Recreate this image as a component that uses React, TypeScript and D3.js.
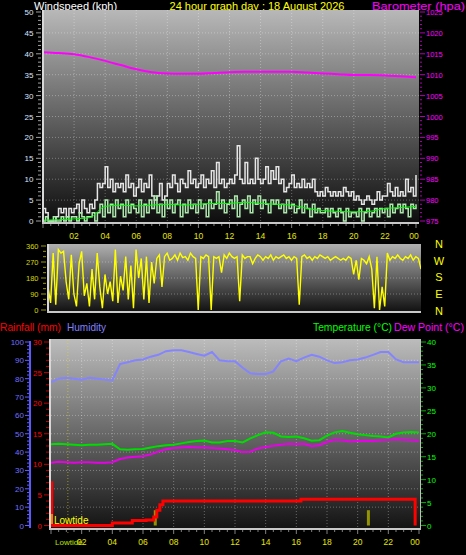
import React from "react";
import * as d3 from "d3";

// ---------- DATA ----------
const hourLabels = ["02", "04", "06", "08", "10", "12", "14", "16", "18", "20", "22", "00"];
const hourValues = [2, 4, 6, 8, 10, 12, 14, 16, 18, 20, 22, 24];

// 10-minute samples 00:00 -> 24:00 (kph)
const windGust = [
  3, 2, 0, 0, 0, 1,
  3, 2, 3, 1, 3, 2,
  3, 4, 2, 5, 3, 2,
  4, 3, 5, 9, 8, 9,
  13, 8, 10, 7, 9, 8,
  9, 7, 11, 8, 9, 6,
  8, 10, 7, 9, 8, 11,
  6, 5, 6, 9, 5, 6,
  9, 8, 11, 9, 7, 10,
  9, 8, 12, 9, 10, 8,
  9, 11, 8, 10, 9, 12,
  8, 14, 9, 10, 8, 9,
  10, 9, 11, 18, 10, 9,
  14, 9, 10, 9, 15, 10,
  9, 10, 13, 9, 12, 10,
  13, 9, 10, 7, 8, 9,
  11, 8, 9, 8, 10, 8,
  9, 8, 10, 7, 6, 7,
  6, 8, 7, 6, 7, 6,
  7, 6, 8, 7, 6, 7,
  5, 6, 5, 4, 5, 6,
  5, 4, 5, 7, 5, 6,
  6, 9, 7, 6, 8, 6,
  7, 6, 10, 7, 8, 6,
  11,
];
const windSpeed = [
  0, 1, 0, 0, 1, 0,
  0, 1, 0, 1, 0, 1,
  1, 0, 2, 1, 0, 1,
  1, 2, 0, 2, 4, 1,
  5, 2, 4, 1, 5, 3,
  4, 1, 5, 2, 4, 3,
  2, 5, 1, 4, 2, 5,
  3, 6, 2, 4, 1, 5,
  3, 5, 2, 4, 5, 1,
  4, 2, 5, 3, 4, 2,
  5, 3, 4, 1, 5, 3,
  4, 7, 3, 5, 2, 4,
  5, 3, 6, 1, 4, 5,
  3, 6, 2, 5, 4, 6,
  3, 5, 4, 2, 5, 4,
  5, 3, 4, 2, 5, 3,
  4, 2, 3, 5, 2, 4,
  3, 1, 4, 2, 3, 2,
  2, 3, 1, 3, 2, 1,
  3, 2, 0, 3, 1, 2,
  2, 1, 3, 0, 2, 3,
  1, 2, 3, 1, 3, 2,
  3, 1, 4, 2, 3, 4,
  2, 4, 3, 1, 4, 3,
  4,
];
// hourly average speed
const avgSpeed = [0.2, 0.3, 0.5, 0.8, 3.5, 3.8, 3.6, 3.8, 4.0, 3.8, 4.0, 4.2, 4.2, 4.5, 4.2, 4.0, 3.8, 3.0, 2.5, 2.3, 2.2, 2.3, 3.0, 3.2, 3.5];
// hourly barometer (hPa)
const pressure = [1015.4, 1015.2, 1014.9, 1014.2, 1013.3, 1012.3, 1011.3, 1010.6, 1010.3, 1010.2, 1010.2, 1010.4, 1010.6, 1010.7, 1010.7, 1010.7, 1010.7, 1010.5, 1010.3, 1010.1, 1009.9, 1009.9, 1009.8, 1009.6, 1009.4];

// 10-minute wind direction (degrees)
const windDir = [
  130, 40, 320, 30, 340, 320,
  330, 160, 60, 310, 90, 20,
  260, 330, 80, 150, 20, 230,
  60, 320, 130, 10, 200, 90,
  160, 50, 340, 40, 190, 110,
  300, 60, 250, 10, 340, 180,
  290, 60, 300, 40, 270, 150,
  290, 310, 130, 300, 320, 280,
  290, 310, 280, 320, 295, 300,
  280, 320, 300, 290, 0, 300,
  290, 310, 300, 0, 300, 290,
  300, 210, 310, 290, 320, 300,
  290, 300, 50, 310, 290, 300,
  300, 260, 290, 310, 300, 280,
  300, 290, 310, 280, 300, 290,
  300, 310, 290, 300, 280, 300,
  290, 30, 300, 310, 290, 300,
  280, 300, 290, 310, 300, 290,
  300, 280, 290, 300, 290, 280,
  290, 280, 300, 290, 200, 280,
  170, 290, 280, 260, 300, 230,
  10, 300, 0, 130, 20, 320,
  280, 300, 290, 310, 290, 280,
  300, 290, 310, 280, 300, 290,
  230,
];

// half-hourly
const humidity = [78, 80, 80.5, 80, 79.5, 80.5, 80, 79.5, 79, 88, 89, 90, 90.5, 92, 93, 95, 95.5, 95.5, 94.5, 93.5, 92.5, 94.5, 90, 89.5, 89.5, 86, 83, 82.5, 82.5, 84, 89.5, 91, 89.5, 91.5, 93, 92, 90, 88.5, 89, 90, 90.5, 91.5, 93, 94.5, 94.5, 90.5, 89, 89, 89];
const temperature = [17.7, 17.8, 17.7, 17.6, 17.5, 17.6, 17.6, 17.7, 17.8, 16.6, 16.5, 16.6, 16.7, 17.0, 17.3, 17.5, 17.6, 17.9, 18.2, 18.4, 18.5, 18.1, 18.1, 18.4, 18.4, 18.1, 19.0, 19.7, 20.3, 20.2, 19.4, 19.3, 19.4, 19.0, 18.5, 18.6, 19.6, 20.3, 20.6, 20.2, 19.9, 19.7, 19.5, 19.4, 19.2, 20.0, 20.3, 20.4, 20.3];
const dewPoint = [13.7, 13.9, 13.8, 13.7, 13.8, 13.8, 13.7, 13.7, 13.8, 14.5, 14.8, 15.0, 15.1, 15.5, 16.1, 16.6, 16.9, 17.0, 17.1, 17.0, 17.0, 16.9, 16.8, 16.6, 16.4, 16.0, 16.1, 16.8, 17.1, 17.4, 17.6, 17.8, 17.7, 17.8, 17.3, 17.5, 18.2, 18.7, 18.6, 18.3, 18.4, 18.5, 18.4, 18.6, 18.7, 18.8, 18.7, 18.6, 18.5];

// cumulative rain (mm) at step times (hours)
const rainHours = [0, 0.05, 4.0, 5.3, 6.2, 6.7, 6.9, 7.1, 7.3, 16.3, 23.75];
const rainTotal = [7.0, 0, 0.4, 0.8, 0.9, 1.4, 2.5, 3.4, 4.0, 4.3, 0];
// rain rate bars
const rainRateHours = [6.8, 20.7];
const rainRate = [2.5, 2.5];
const tideHour = 1.1;

// ---------- CHART ----------
const FONT = "'Liberation Sans', Arial, sans-serif";

export default function App() {
  const xTop = d3.scaleLinear().domain([0, 24]).range([43, 416]);
  const yWind = d3.scaleLinear().domain([0, 50]).range([221, 12]);
  const yBaro = d3.scaleLinear().domain([975, 1025]).range([221, 12]);
  const xDir = d3.scaleLinear().domain([0, 24]).range([48, 421]);
  const yDir = d3.scaleLinear().domain([0, 360]).range([310, 246]);
  const xBot = d3.scaleLinear().domain([0, 24]).range([51, 419]);
  const yHum = d3.scaleLinear().domain([0, 100]).range([525.5, 342]);
  const yRain = d3.scaleLinear().domain([0, 30]).range([525.5, 342]);
  const yTemp = d3.scaleLinear().domain([0, 40]).range([525.5, 342]);

  const gustPath = d3.line<number>().x((_, i) => xTop(i / 6)).y((d) => yWind(d)).curve(d3.curveStepAfter)(windGust) || "";
  const speedPath = d3.line<number>().x((_, i) => xTop(i / 6)).y((d) => yWind(d)).curve(d3.curveStepAfter)(windSpeed) || "";
  const avgPath = d3.line<number>().x((_, i) => xTop(i)).y((d) => yWind(d)).curve(d3.curveMonotoneX)(avgSpeed) || "";
  const baroPath = d3.line<number>().x((_, i) => xTop(i)).y((d) => yBaro(d)).curve(d3.curveMonotoneX)(pressure) || "";
  const dirPath = d3.line<number>().x((_, i) => xDir(i / 6)).y((d) => yDir(d))(windDir) || "";
  const humPath = d3.line<number>().x((_, i) => xBot(i / 2)).y((d) => yHum(d))(humidity) || "";
  const tempPath = d3.line<number>().x((_, i) => xBot(i / 2)).y((d) => yTemp(d))(temperature) || "";
  const dewPath = d3.line<number>().x((_, i) => xBot(i / 2)).y((d) => yTemp(d))(dewPoint) || "";
  const rainPath = d3.line<number>().x((_, i) => xBot(rainHours[i])).y((d) => yRain(d)).curve(d3.curveStepAfter)(rainTotal) || "";

  const grid = "rgba(255,255,255,0.32)";

  return (
    <svg width={466} height={555} style={{ position: "absolute", left: 0, top: 0, background: "#000", display: "block" }} fontFamily={FONT}>
      <defs>
        <linearGradient id="gTop" x1="0" y1="0" x2="0" y2="1">
          <stop offset="0" stopColor="#b8b8b8" />
          <stop offset="1" stopColor="#0c0c0c" />
        </linearGradient>
        <linearGradient id="gDir" x1="0" y1="0" x2="0" y2="1">
          <stop offset="0" stopColor="#b0b0b0" />
          <stop offset="1" stopColor="#0e0e0e" />
        </linearGradient>
        <linearGradient id="gBot" x1="0" y1="0" x2="0" y2="1">
          <stop offset="0" stopColor="#bcbcbc" />
          <stop offset="1" stopColor="#121212" />
        </linearGradient>
        <clipPath id="cTop"><rect x={43} y={10} width={376} height={213} /></clipPath>
        <clipPath id="cDir"><rect x={48} y={244} width={373} height={68} /></clipPath>
        <clipPath id="cBot"><rect x={51} y={340} width={369} height={189} /></clipPath>
      </defs>

      {/* ===== Headers ===== */}
      <text x={34} y={10} fill="#ffffff" fontSize={11}>Windspeed (kph)</text>
      <text x={257} y={10} fill="#ffff00" fontSize={11} textAnchor="middle">24 hour graph day : 18 August 2026</text>
      <text x={372} y={10} fill="#ff00ff" fontSize={11} textLength={93} lengthAdjust="spacingAndGlyphs">Barometer (hpa)</text>

      {/* ===== Top panel ===== */}
      <rect x={42} y={10} width={377} height={214} fill="url(#gTop)" />
      {d3.range(5, 50, 5).map((v) => (
        <line key={"hg" + v} x1={43} x2={419} y1={yWind(v)} y2={yWind(v)} stroke={grid} strokeDasharray="1,2" />
      ))}
      {hourValues.slice(0, 11).map((h) => (
        <line key={"vg" + h} x1={xTop(h)} x2={xTop(h)} y1={10} y2={223} stroke={grid} strokeDasharray="1,2" />
      ))}
      <g clipPath="url(#cTop)">
        <path d={baroPath} fill="none" stroke="#ff00ff" strokeWidth={2} />
        <path d={gustPath} fill="none" stroke="#e6e6e6" strokeWidth={1.5} />
        <path d={speedPath} fill="none" stroke="#aee8ae" strokeWidth={1.5} />
        <path d={avgPath} fill="none" stroke="#00ff00" strokeWidth={1} />
      </g>
      <line x1={43} x2={43} y1={10} y2={224} stroke="#d8d8d8" strokeWidth={2} />
      <line x1={42} x2={419} y1={223} y2={223} stroke="#c8c8c8" strokeWidth={2} />
      {/* left axis */}
      {d3.range(0, 51, 1).map((v) => (
        <line key={"lt" + v} x1={v % 5 === 0 ? 36 : 38} x2={41} y1={yWind(v)} y2={yWind(v)} stroke="#a0a0a0" strokeWidth={1} />
      ))}
      {d3.range(0, 51, 5).map((v) => (
        <text key={"ll" + v} x={33.5} y={yWind(v) + 3} fill="#dde6ff" fontSize={8} textAnchor="end">{v}</text>
      ))}
      {/* right axis */}
      {d3.range(975, 1026, 1).map((v) => (
        <line key={"rt" + v} x1={420} x2={v % 5 === 0 ? 425 : 422} y1={yBaro(v)} y2={yBaro(v)} stroke="#b000b0" strokeWidth={1} />
      ))}
      {d3.range(975, 1026, 5).map((v) => (
        <text key={"rl" + v} x={426} y={yBaro(v) + 3} fill="#ff00ff" fontSize={7.5}>{v}</text>
      ))}
      {/* bottom ticks */}
      {d3.range(0, 24.01, 0.5).map((h) => (
        <line key={"bt" + h} x1={xTop(h)} x2={xTop(h)} y1={224} y2={h % 2 === 0 ? 228 : 226} stroke="#808080" />
      ))}
      {hourValues.map((h, i) => (
        <text key={"xl" + h} x={Math.min(xTop(h), 414)} y={239} fill="#e6e600" fontSize={8.5} textAnchor="middle">{hourLabels[i]}</text>
      ))}

      {/* ===== Direction panel ===== */}
      <rect x={47} y={244} width={374} height={69} fill="url(#gDir)" />
      {[90, 180, 270].map((v) => (
        <line key={"dg" + v} x1={48} x2={421} y1={yDir(v)} y2={yDir(v)} stroke={grid} strokeDasharray="1,2" />
      ))}
      <g clipPath="url(#cDir)">
        <path d={dirPath} fill="none" stroke="#ffff00" strokeWidth={1.4} />
      </g>
      <line x1={48} x2={48} y1={244} y2={313} stroke="#d8d8d8" strokeWidth={2} />
      <line x1={47} x2={421} y1={312} y2={312} stroke="#c8c8c8" strokeWidth={2} />
      {d3.range(0, 361, 30).map((v) => (
        <line key={"dt" + v} x1={v % 90 === 0 ? 41 : 43} x2={46} y1={yDir(v)} y2={yDir(v)} stroke="#9a9a00" />
      ))}
      {d3.range(0, 361, 90).map((v) => (
        <text key={"dl" + v} x={38.5} y={yDir(v) + 2.7} fill="#d8d800" fontSize={7.5} textAnchor="end">{v}</text>
      ))}
      {["N", "W", "S", "E", "N"].map((c, i) => (
        <text key={"cmp" + i} x={439} y={248 + i * 16.7} fill="#ffff00" fontSize={11} textAnchor="middle">{c}</text>
      ))}

      {/* ===== Bottom panel headers ===== */}
      <text x={0} y={331} fill="#ff0000" fontSize={10.5} textLength={61} lengthAdjust="spacingAndGlyphs">Rainfall (mm)</text>
      <text x={67} y={331} fill="#8080ff" fontSize={10.5} textLength={39} lengthAdjust="spacingAndGlyphs">Humidity</text>
      <text x={313} y={331} fill="#00ff00" fontSize={10.5} textLength={79} lengthAdjust="spacingAndGlyphs">Temperature (°C)</text>
      <text x={394} y={331} fill="#ff00ff" fontSize={10.5} textLength={70} lengthAdjust="spacingAndGlyphs">Dew Point (°C)</text>

      {/* ===== Bottom panel ===== */}
      <rect x={50} y={339} width={371} height={191} fill="url(#gBot)" />
      {d3.range(10, 100, 10).map((v) => (
        <line key={"bg" + v} x1={51} x2={420} y1={yHum(v)} y2={yHum(v)} stroke={grid} strokeDasharray="1,2" />
      ))}
      {hourValues.slice(0, 11).map((h) => (
        <line key={"bv" + h} x1={xBot(h)} x2={xBot(h)} y1={340} y2={529} stroke={grid} strokeDasharray="1,2" />
      ))}
      <line x1={xBot(tideHour)} x2={xBot(tideHour)} y1={340} y2={533} stroke="rgba(230,230,0,0.55)" strokeDasharray="1,2" />
      <g clipPath="url(#cBot)">
        {rainRate.map((v, i) => (
          <rect key={"rr" + i} x={xBot(rainRateHours[i]) - 1.5} y={yRain(v)} width={3} height={yRain(0) - yRain(v)} fill="#a8a800" opacity={0.85} />
        ))}
        <path d={humPath} fill="none" stroke="#8484ff" strokeWidth={2} />
        <path d={dewPath} fill="none" stroke="#e800e8" strokeWidth={2} />
        <path d={tempPath} fill="none" stroke="#00dd00" strokeWidth={2} />
        <path d={rainPath} fill="none" stroke="#ff0000" strokeWidth={3} />
      </g>
      <rect x={51} y={514} width={2} height={10} fill="#ff8000" />
      <text x={54} y={524} fill="#ffff00" fontSize={10}>Lowtide</text>
      <line x1={50} x2={50} y1={339} y2={530} stroke="#d8d8d8" strokeWidth={2} />
      <line x1={49} x2={421} y1={529} y2={529} stroke="#c8c8c8" strokeWidth={2} />
      <line x1={420.5} x2={420.5} y1={339} y2={530} stroke="#c0c0c0" strokeWidth={1} />
      {/* humidity axis */}
      <line x1={30} x2={30} y1={341} y2={528} stroke="#5a5aff" strokeWidth={2} />
      {d3.range(0, 101, 2).map((v) => (
        <line key={"ht" + v} x1={v % 10 === 0 ? 25 : 27} x2={29} y1={yHum(v)} y2={yHum(v)} stroke="#6060ff" />
      ))}
      {d3.range(0, 101, 10).map((v) => (
        <text key={"hl" + v} x={24} y={yHum(v) + 3} fill="#7070ff" fontSize={8} textAnchor="end">{v}</text>
      ))}
      {/* rain axis */}
      {d3.range(0, 31, 1).map((v) => (
        <line key={"rnt" + v} x1={v % 5 === 0 ? 44 : 46} x2={49} y1={yRain(v)} y2={yRain(v)} stroke="#c00000" />
      ))}
      {d3.range(0, 31, 5).map((v) => (
        <text key={"rnl" + v} x={42} y={yRain(v) + 3} fill="#ff0000" fontSize={8} textAnchor="end">{v}</text>
      ))}
      {/* temperature axis */}
      {d3.range(0, 41, 1).map((v) => (
        <line key={"tt" + v} x1={421} x2={v % 5 === 0 ? 426 : 423} y1={yTemp(v)} y2={yTemp(v)} stroke="#00b000" />
      ))}
      {d3.range(0, 41, 5).map((v) => (
        <text key={"tl" + v} x={427} y={yTemp(v) + 3} fill="#00ff00" fontSize={8}>{v}</text>
      ))}
      {d3.range(0, 24.01, 0.5).map((h) => (
        <line key={"bxt" + h} x1={xBot(h)} x2={xBot(h)} y1={530} y2={h % 2 === 0 ? 534 : 532} stroke="#808080" />
      ))}
      <text x={55} y={545} fill="#b8e000" fontSize={8}>Lowtide</text>
      {hourValues.map((h, i) => (
        <text key={"bxl" + h} x={Math.min(xBot(h), 415)} y={545} fill="#e6e600" fontSize={8.5} textAnchor="middle">{hourLabels[i]}</text>
      ))}
    </svg>
  );
}
